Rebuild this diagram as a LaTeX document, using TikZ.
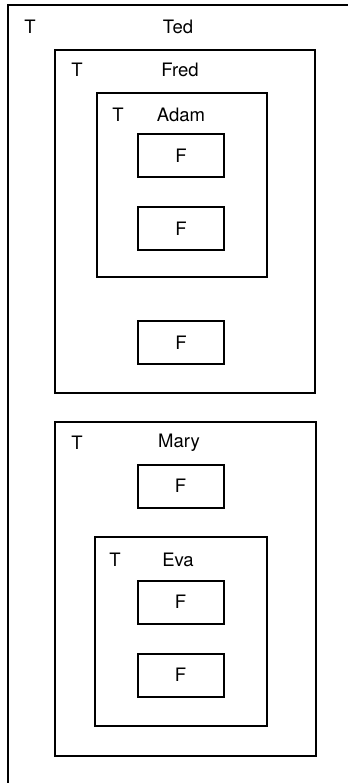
\documentclass[tikz,border=0pt]{standalone}
\usepackage{fontspec}
\setmainfont{TeX Gyre Heros}
\usetikzlibrary{positioning}

\begin{document}
\begin{tikzpicture}[
		x=1pt, y=-1pt,
		% Style des cadres (blocs englobants)
		frame/.style={
			draw,
			line width=2pt,
			minimum width=#1,
			inner sep=0pt,
		},
		% Style des petites boites F
		leaf/.style={
			draw,
			line width=2pt,
			minimum width=86pt,
			minimum height=43pt,
			inner sep=0pt,
			font=\fontsize{18.5}{20}\selectfont,
			text height=13pt,
			text depth=0pt
		},
		% Style des etiquettes (T et noms)
		tag/.style={
			inner sep=0pt,
			font=\fontsize{18.5}{20}\selectfont,
			text height=13pt,
			text depth=0pt
		}
		]
		\useasboundingbox (0,0) rectangle (348,783);
		
		% --- CADRE EXTERIEUR (Ted, coupe a droite et en bas) ---
		\coordinate (tedbl) at (8,783);
		\coordinate (tedtr) at (348,5);
		\draw[line width=2pt] (tedbl) |- (tedtr);
		\node[tag] (tedT) at (30,27) {T};
		\node[tag] (tedname) at (178,27) {Ted};
		
		% --- FRED ---
		\node[frame=260pt, minimum height=343pt] (fred) at (185,221.5) {};
		\node[tag] (fredT) at (77,70) {T};
		\node[tag] (fredname) at (180,70) {Fred};
		
		% Adam, dans Fred
		\node[frame=170pt, minimum height=184pt] (adam) at (182,185) {};
		\node[tag] (adamT) at (118,115) {T};
		\node[tag] (adamname) at (181,115) {Adam};
		\node[leaf] (adamf1) at (181,156) {F};
		\node[leaf] (adamf2) at (181,229) {F};
		
		\node[leaf] (fredf) at (181,342.5) {F};
		
		% --- MARY ---
		\node[frame=261pt, minimum height=334pt] (mary) at (185.5,589) {};
		\node[tag] (maryT) at (77,443) {T};
		\node[tag] (maryname) at (179,441) {Mary};
		\node[leaf] (maryf) at (180.5,486) {F};
		
		% Eva, dans Mary
		\node[frame=172pt, minimum height=189pt] (eva) at (181,631.5) {};
		\node[tag] (evaT) at (115,560) {T};
		\node[tag] (evaname) at (178,560) {Eva};
		\node[leaf] (evaf1) at (180.5,602) {F};
		\node[leaf] (evaf2) at (180.5,675) {F};
		
	\end{tikzpicture}
\end{document}
